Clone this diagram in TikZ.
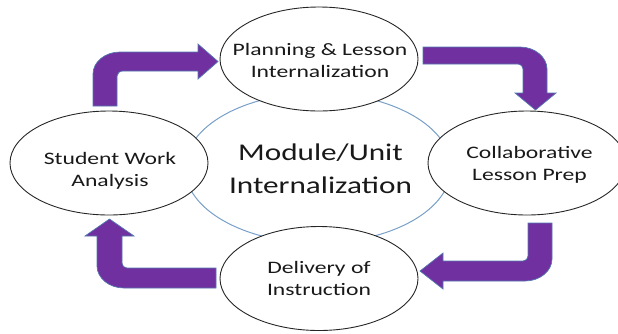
\documentclass[tikz,border=0pt]{standalone}
\usepackage{fontspec}
\setmainfont{Carlito}
\newfontfamily\labelfont[FakeStretch=1.35]{Carlito}
\newfontfamily\titlefont[FakeStretch=1.3]{Carlito}
\usetikzlibrary{shapes.geometric}

\definecolor{cyclepurple}{RGB}{112,48,160}
\definecolor{cycleedge}{RGB}{84,120,176}
\definecolor{hubblue}{RGB}{120,160,200}
\definecolor{inktext}{RGB}{25,25,25}

\begin{document}
\begin{tikzpicture}[x=1pt,y=-1pt,
  bubble/.style={ellipse, draw=black!85, line width=0.9pt, fill=white,
    inner sep=0pt, minimum width=198pt, minimum height=104pt},
  steptext/.style={font=\labelfont\fontsize{17.5}{22}\selectfont,
    align=center, text=inktext, inner sep=0pt},
  hubtext/.style={font=\titlefont\fontsize{24}{32.6}\selectfont,
    align=center, text=inktext, inner sep=0pt},
  bentarrow/.style={fill=cyclepurple, draw=cycleedge, line width=0.7pt,
    line join=miter}
]
\useasboundingbox (0,0) rectangle (618,333);

% central ring
\node[ellipse, draw=hubblue, line width=1pt, inner sep=0pt,
  minimum width=266pt, minimum height=150pt] (hub) at (318,168) {};

% bent block arrows of the cycle
\path[bentarrow] (93,106) -- (93,74)
  .. controls (93,61.8) and (105.1,52) .. (120,52) -- (198,52) -- (198,44)
  -- (218,61.5) -- (198,79) -- (198,71) -- (123,71)
  .. controls (119.7,71) and (117,73.2) .. (117,76) -- (117,106) -- cycle;

\path[bentarrow] (423,47) -- (520,47)
  .. controls (534.9,47) and (547,57.2) .. (547,69) -- (547,93) -- (556,93)
  -- (535.5,110) -- (515,93) -- (523,93) -- (523,69)
  .. controls (523,66.2) and (520.8,64) .. (518,64) -- (423,64) -- cycle;

\path[bentarrow] (528,223) -- (552,223) -- (552,259)
  .. controls (552,271.1) and (539.9,281) .. (525,281) -- (443,281)
  -- (443,289) -- (420,271) -- (443,253) -- (443,261) -- (523,261)
  .. controls (525.8,261) and (528,258.8) .. (528,256) -- cycle;

\path[bentarrow] (216,268) -- (127,268)
  .. controls (124.2,268) and (122,265.8) .. (122,263) -- (122,236)
  -- (134,236) -- (109.5,219) -- (85,236) -- (97,236) -- (97,266)
  .. controls (97,278.1) and (109.1,288) .. (124,288) -- (216,288) -- cycle;

% the four stages
\node[bubble] (plan) at (319,59) {};
\node[bubble] (collab) at (527,163) {};
\node[bubble] (deliver) at (319,278.5) {};
\node[bubble] (analysis) at (109,163) {};

\node[steptext] (plantext) at (320,60) {Planning \& Lesson\\Internalization};
\node[steptext] (collabtext) at (529.5,165) {Collaborative\\Lesson Prep};
\node[steptext] (delivertext) at (319,278) {Delivery of\\Instruction};
\node[steptext] (analysistext) at (110,170.6) {Student Work\\Analysis};
\node[hubtext] (hubtext) at (320.5,168.7) {Module/Unit\\Internalization};
\end{tikzpicture}
\end{document}
